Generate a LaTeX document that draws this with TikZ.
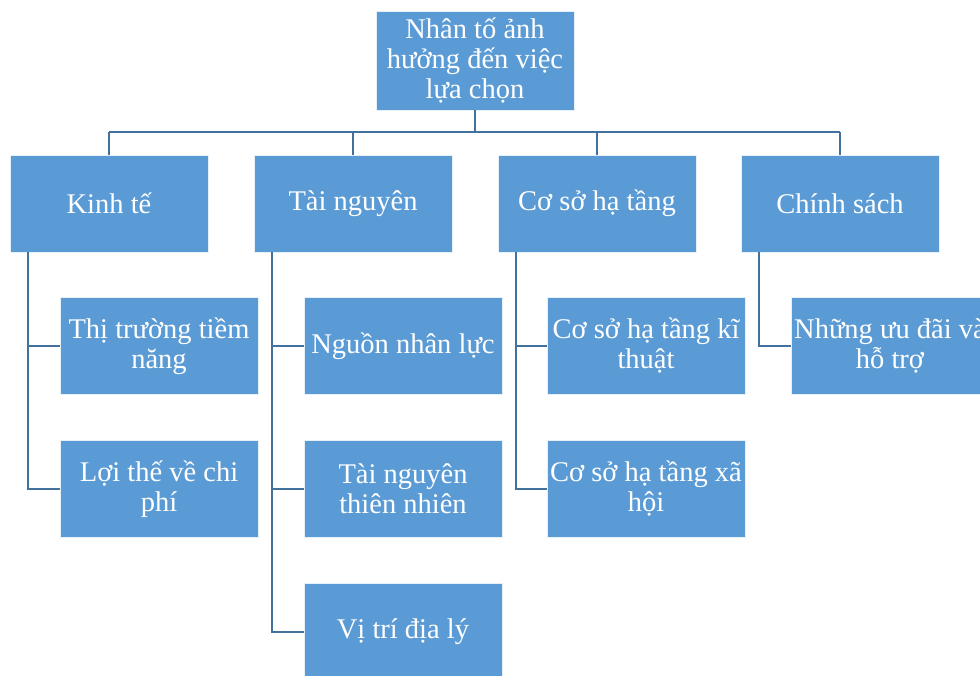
\documentclass[tikz,border=0pt]{standalone}
\usepackage{fontspec}
\setmainfont{Liberation Serif}
\usetikzlibrary{positioning}
\definecolor{boxblue}{HTML}{5B9BD5}
\definecolor{lineblue}{HTML}{41719C}

\begin{document}
\begin{tikzpicture}[x=1pt, y=-1pt,
  box/.style={draw=white!85!boxblue, line width=0.8pt, fill=boxblue,
              minimum width=198pt, minimum height=97pt, align=center,
              text=white, inner sep=2pt, font=\fontsize{28.5}{30}\selectfont},
  conn/.style={draw=lineblue, line width=2.2pt},
]
\useasboundingbox (0,0) rectangle (980,675);
\clip (0,0) rectangle (980,675);

% ---- Root ----
\node[box, minimum height=99pt] (root) at (475, 60.5)
  {Nhân tố ảnh\\hưởng đến việc\\lựa chọn};

% ---- Level 1 ----
\node[box] (kt) at (109, 203.5) {Kinh tế};
\node[box] (tn) at (353, 203.5) {Tài nguyên};
\node[box] (hatang) at (597, 203.5) {Cơ sở hạ tầng};
\node[box] (cs) at (840, 203.5) {Chính sách};

% ---- Level 2 ----
\node[box] (kt1) at (159, 346) {Thị trường tiềm\\năng};
\node[box] (kt2) at (159, 489) {Lợi thế về chi\\phí};

\node[box] (tn1) at (403, 346) {Nguồn nhân lực};
\node[box] (tn2) at (403, 489) {Tài nguyên\\thiên nhiên};
\node[box] (tn3) at (403, 632) {Vị trí địa lý};

\node[box] (ht1) at (646, 346) {Cơ sở hạ tầng kĩ\\thuật};
\node[box] (ht2) at (646, 489) {Cơ sở hạ tầng xã\\hội};

\node[box] (cs1) at (890, 346) {Những ưu đãi và\\hỗ trợ};

% ---- Connectors ----
\coordinate (bus) at (475, 132);
\draw[conn] (root.south) -- (root.south |- bus);
\draw[conn] (kt.north |- bus) -- (cs.north |- bus);
\foreach \n in {kt, tn, hatang, cs}
  \draw[conn] (\n.north) -- (\n.north |- bus);

\draw[conn] ([xshift=18pt]kt.south west) |- (kt2.west);
\draw[conn] ([xshift=18pt]kt.south west |- kt1.west) -- (kt1.west);
\draw[conn] ([xshift=18pt]tn.south west) |- (tn3.west);
\foreach \n in {tn1, tn2}
  \draw[conn] ([xshift=18pt]tn.south west |- \n.west) -- (\n.west);
\draw[conn] ([xshift=18pt]hatang.south west) |- (ht2.west);
\draw[conn] ([xshift=18pt]hatang.south west |- ht1.west) -- (ht1.west);
\draw[conn] ([xshift=18pt]cs.south west) |- (cs1.west);

\end{tikzpicture}
\end{document}
